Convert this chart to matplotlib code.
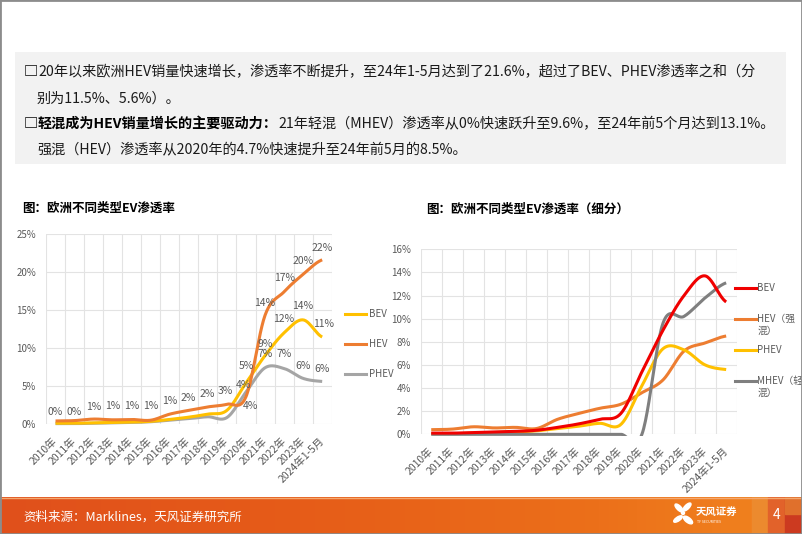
import numpy as np
import matplotlib
matplotlib.use('Agg')
import matplotlib.pyplot as plt
from matplotlib.patches import Rectangle, Ellipse
from matplotlib.lines import Line2D

plt.rcParams['font.family'] = ['Noto Sans CJK SC', 'DejaVu Sans']

# ---------------- data ----------------
years = ['2010年', '2011年', '2012年', '2013年', '2014年', '2015年', '2016年', '2017年',
         '2018年', '2019年', '2020年', '2021年', '2022年', '2023年', '2024年1-5月']

# left chart (%): BEV, HEV (strong + mild), PHEV
bev = [0.1, 0.1, 0.15, 0.2, 0.25, 0.35, 0.6, 0.9, 1.3, 1.8, 5.4, 9.0, 12.0, 13.7, 11.45]
hev_total = [0.4, 0.45, 0.65, 0.55, 0.6, 0.5, 1.3, 1.8, 2.25, 2.6, 3.6, 14.3, 17.4, 19.7, 21.6]
phev = [0.05, 0.05, 0.1, 0.15, 0.2, 0.3, 0.5, 0.7, 0.95, 0.85, 4.2, 7.4, 7.3, 6.0, 5.6]

# right chart (%): split of HEV
hev_strong = [0.4, 0.45, 0.65, 0.55, 0.6, 0.5, 1.3, 1.8, 2.25, 2.6, 3.6, 4.7, 7.2, 7.9, 8.5]
mhev = [0, 0, 0, 0, 0, 0, 0, 0, 0, 0, 0, 9.6, 10.2, 11.8, 13.1]

left_names = ['BEV', 'HEV', 'PHEV']
right_names = ['BEV', 'HEV（强', 'PHEV', 'MHEV（轻']

# label placement offsets (pixels) for left-chart data labels
hev_lab_off = [(0, 9), (0, 9), (0, 12), (0, 14), (0, 13), (0, 14), (0, 13), (-1, 12),
               (-1, 12.5), (-2, 13), (5, -9.5), (0, 12.5), (0, 13.8), (0, 13.5), (0, 12)]
bev_lab_off = {10: (0, 17), 11: (0, 11.6), 12: (0, 13.8), 13: (0, 13.9), 14: (1, 12.6)}
phev_lab_off = {10: (-2, 7), 11: (0, 13.8), 12: (0, 14.5), 13: (0, 12.4), 14: (0, 12.4)}

W, H = 802, 534
fig = plt.figure(figsize=(W / 100, H / 100), dpi=100)
fig.patch.set_facecolor('white')


def fx(x):
    return x / W


def fy(y):
    return 1 - y / H


def smooth(vals, n=24):
    y = np.asarray(vals, float)
    k = len(y)
    m = np.zeros(k)
    m[1:-1] = (y[2:] - y[:-2]) / 2
    m[0] = (y[1] - y[0]) / 2
    m[-1] = (y[-1] - y[-2]) / 2
    xs, ys = [], []
    t = np.linspace(0, 1, n, endpoint=False)
    h00 = 2 * t**3 - 3 * t**2 + 1
    h10 = t**3 - 2 * t**2 + t
    h01 = -2 * t**3 + 3 * t**2
    h11 = t**3 - t**2
    for i in range(k - 1):
        xs.append(i + t)
        ys.append(h00 * y[i] + h10 * m[i] + h01 * y[i + 1] + h11 * m[i + 1])
    xs.append(np.array([k - 1.0]))
    ys.append(np.array([y[-1]]))
    return np.concatenate(xs), np.concatenate(ys)


def rnd(v):
    return f"{int(np.floor(v + 0.5))}%"


GRID = '#E3E3E3'
TXT = '#595959'


def style_axes(ax, ymax, ystep):
    ax.set_xlim(-0.5, len(years) - 0.5)
    ax.set_ylim(0, ymax)
    ax.set_yticks(np.arange(0, ymax + 0.01, ystep))
    ax.set_yticklabels([f"{int(v)}%" for v in np.arange(0, ymax + 0.01, ystep)])
    ax.set_xticks(range(len(years)))
    ax.set_xticklabels(years, rotation=45, ha='right', rotation_mode='anchor', va='center',
                       fontsize=7.5)
    ax.set_xticks(np.arange(-0.5, len(years), 1.0), minor=True)
    ax.grid(True, axis='y', which='major', color=GRID, lw=0.8)
    ax.grid(True, axis='x', which='minor', color=GRID, lw=0.8)
    ax.grid(False, axis='x', which='major')
    for s in ax.spines.values():
        s.set_visible(False)
    ax.tick_params(axis='both', which='both', length=0, colors=TXT)
    ax.tick_params(axis='y', pad=7, labelsize=7)
    ax.tick_params(axis='x', pad=11)
    ax.set_axisbelow(True)
    ax.set_facecolor('none')


def plot_smooth(ax, vals, color, lw=2.2, z=3):
    xs, ys = smooth(vals)
    ln, = ax.plot(xs, ys, color=color, lw=lw, solid_capstyle='butt', zorder=z)
    clip = Rectangle((0, -0.008), 1, 1.016, transform=ax.transAxes, facecolor='none')
    ln.set_clip_path(clip)
    return ln


# ---------------- frame and text box ----------------
fig.add_artist(Rectangle((0, 0), 1, 1, transform=fig.transFigure, facecolor='none',
                         edgecolor='#8C8C8C', lw=2.0, zorder=10))
fig.add_artist(Rectangle((fx(15), fy(164)), fx(786 - 15), (164 - 52) / H,
                         transform=fig.transFigure, facecolor='#F2F2F2', edgecolor='none', zorder=0))

FS = 10.2
line1 = '20年以来欧洲HEV销量快速增长，渗透率不断提升，至24年1-5月达到了21.6%，超过了BEV、PHEV渗透率之和（分'
line2 = '别为11.5%、5.6%）。'
line3b = '轻混成为HEV销量增长的主要驱动力：'
line3 = '21年轻混（MHEV）渗透率从0%快速跃升至9.6%，至24年前5个月达到13.1%。'
line4 = '强混（HEV）渗透率从2020年的4.7%快速提升至24年前5月的8.5%。'
renderer = fig.canvas.get_renderer()


def seq(x, y, parts):
    for txt, bold in parts:
        t = fig.text(fx(x), fy(y), txt, fontsize=FS, va='center', ha='left',
                     color='#000000' if bold else '#1A1A1A',
                     fontweight='bold' if bold else 'normal')
        bb = t.get_window_extent(renderer)
        x = bb.x1


seq(24, 72, [('□', True), (line1, False)])
seq(37, 99, [(line2, False)])
seq(24, 124, [('□', True), (line3b, True), (line3, False)])
seq(37, 150, [(line4, False)])

# titles
fig.text(fx(22), fy(208), '图：欧洲不同类型EV渗透率', fontsize=9, fontweight='bold',
         va='center', ha='left', color='#000000')
fig.text(fx(426), fy(209), '图：欧洲不同类型EV渗透率（细分）', fontsize=9, fontweight='bold',
         va='center', ha='left', color='#000000')

# ---------------- left chart ----------------
axl = fig.add_axes([fx(46), fy(424), fx(331.7 - 46), (424 - 234) / H])
style_axes(axl, 25, 5)
c_bev_l, c_hev_l, c_phev_l = '#FFC000', '#ED7D31', '#A5A5A5'
plot_smooth(axl, phev, c_phev_l, z=3)
plot_smooth(axl, bev, c_bev_l, z=4)
plot_smooth(axl, hev_total, c_hev_l, z=5)

LAB_FS = 7.5
for i, v in enumerate(hev_total):
    dx, dy = hev_lab_off[i]
    axl.annotate(rnd(v), (i, v), xytext=(dx, dy), textcoords='offset pixels',
                 ha='center', va='center', fontsize=LAB_FS, color=TXT, zorder=6)
for i, (dx, dy) in bev_lab_off.items():
    axl.annotate(rnd(bev[i]), (i, bev[i]), xytext=(dx, dy), textcoords='offset pixels',
                 ha='center', va='center', fontsize=LAB_FS, color=TXT, zorder=6)
for i, (dx, dy) in phev_lab_off.items():
    axl.annotate(rnd(phev[i]), (i, phev[i]), xytext=(dx, dy), textcoords='offset pixels',
                 ha='center', va='center', fontsize=LAB_FS, color=TXT, zorder=6)

# left legend
for name, col, yy in zip(left_names, [c_bev_l, c_hev_l, c_phev_l], [314, 344, 374]):
    fig.add_artist(Line2D([fx(345), fx(366)], [fy(yy), fy(yy)], color=col, lw=2.2,
                          transform=fig.transFigure))
    fig.text(fx(368.5), fy(yy), name, fontsize=7, color=TXT, va='center', ha='left')

# ---------------- right chart ----------------
axr = fig.add_axes([fx(420.7), fy(434.3), fx(736.7 - 420.7), (434.3 - 249.3) / H])
style_axes(axr, 16, 2)
c_bev_r, c_hev_r, c_phev_r, c_mhev_r = '#F00000', '#ED7D31', '#FFC000', '#7F7F7F'
plot_smooth(axr, hev_strong, c_hev_r, z=3)
plot_smooth(axr, phev, c_phev_r, z=4)
plot_smooth(axr, mhev, c_mhev_r, z=5)
plot_smooth(axr, bev, c_bev_r, z=6)

for name, col, yy in zip(right_names, [c_bev_r, c_hev_r, c_phev_r, c_mhev_r], [288, 319, 350, 381]):
    fig.add_artist(Line2D([fx(735), fx(756)], [fy(yy), fy(yy)], color=col, lw=2.2,
                          transform=fig.transFigure))
    fig.text(fx(757.5), fy(yy), name, fontsize=7, color=TXT, va='center', ha='left')
    if '（' in name:
        fig.text(fx(757.5), fy(yy + 12), '混）', fontsize=7, color=TXT, va='center', ha='left')

# ---------------- bottom band ----------------
band = fig.add_axes([0, 0, 1, (534 - 497) / H])
band.set_axis_off()
stops_x = np.array([0, 300, 600, 750, 802]) / W
stops_c = np.array([[224, 80, 28], [230, 92, 24], [236, 112, 26], [240, 128, 30], [240, 128, 30]]) / 255
xs = np.linspace(0, 1, 400)
grad = np.stack([np.interp(xs, stops_x, stops_c[:, k]) for k in range(3)], axis=-1)[None, :, :]
band.imshow(grad, aspect='auto', extent=[0, 1, 0, 1])
band.set_xlim(0, 1)
band.set_ylim(0, 1)
band.add_patch(Rectangle((752 / W, 0), 16 / W, 1, color='#EC8A2E', zorder=2))
band.add_patch(Rectangle((768 / W, 0), 17 / W, 1, color='#E2622A', zorder=2))
band.add_patch(Rectangle((785 / W, 0), 17 / W, 1, color='#CC3A20', zorder=2))
band.add_patch(Rectangle((785 / W, 0.55), 17 / W, 0.45, color='#E0702C', zorder=2))
band.plot([0, 1], [0.985, 0.985], color='#F4A870', lw=1.0, zorder=3)

fig.text(fx(23), fy(517), '资料来源：Marklines，天风证券研究所', fontsize=9, color='white',
         va='center', ha='left')
fig.text(fx(777), fy(515), '4', fontsize=10, color='white', va='center', ha='center')
# logo
for (cx, cy, w, h, a) in [(679, 508, 5, 9, 30), (687, 507, 5, 9, -30), (678, 519, 5, 8, -40),
                          (688, 520, 6, 9, 35), (683, 513, 3, 3, 0)]:
    fig.add_artist(Ellipse((fx(cx), fy(cy)), w / W, h / H, angle=a, color='white',
                           transform=fig.transFigure))
fig.text(fx(696), fy(512), '天风证券', fontsize=7.5, color='white', va='center', ha='left',
         fontweight='bold')
fig.text(fx(697), fy(522), 'TF SECURITIES', fontsize=2.5, color='white', va='center', ha='left')

fig.savefig('out.png', dpi=100, facecolor='white')
